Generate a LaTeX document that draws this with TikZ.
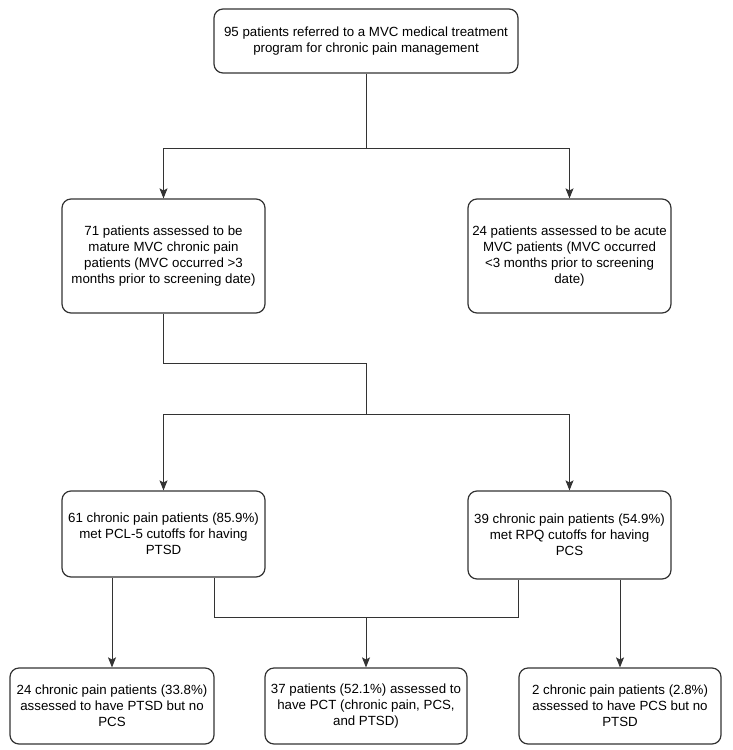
\documentclass[tikz,border=0pt]{standalone}
\usepackage{fontspec}
\setmainfont{Liberation Sans}
\usetikzlibrary{arrows.meta, positioning}

\begin{document}
\begin{tikzpicture}[
        x=1pt, y=-1pt,
        every node/.style={align=center},
        box/.style={draw=black!80, line width=1.2pt, rounded corners=9pt, inner sep=1pt, font=\fontsize{13.3}{16}\selectfont},
        line/.style={-{Stealth[length=10pt,width=8pt,inset=2pt]}, line width=0.9pt, black!80},
        link/.style={line width=0.9pt, black!80},
    ]
    \useasboundingbox (0,0) rectangle (732,750);
    % Nodes
    \node[box, minimum width=304pt, minimum height=64pt] (referred) at (366,41) {95 patients referred to a MVC medical treatment\\program for chronic pain management};
    \node[box, minimum width=203pt, minimum height=114pt] (mature) at (163.5,256) {71 patients assessed to be\\mature MVC chronic pain\\patients (MVC occurred >3\\months prior to screening date)};
    \node[box, minimum width=203pt, minimum height=114pt] (acute) at (569.5,256) {24 patients assessed to be acute\\MVC patients (MVC occurred\\<3 months prior to screening\\date)};
    \node[box, minimum width=203pt, minimum height=86pt] (ptsd) at (163.5,534) {61 chronic pain patients (85.9\%)\\met PCL-5 cutoffs for having\\PTSD};
    \node[box, minimum width=203pt, minimum height=88pt] (pcs) at (569.5,535) {39 chronic pain patients (54.9\%)\\met RPQ cutoffs for having\\PCS};
    \node[box, minimum width=204pt, minimum height=76pt] (ptsdonly) at (112,706) {24 chronic pain patients (33.8\%)\\assessed to have PTSD but no\\PCS};
    \node[box, minimum width=202pt, minimum height=76pt] (pct) at (366,706) {37 patients (52.1\%) assessed to\\have PCT (chronic pain, PCS,\\and PTSD)};
    \node[box, minimum width=202pt, minimum height=76pt] (pcsonly) at (620,706) {2 chronic pain patients (2.8\%)\\assessed to have PCS but no\\PTSD};
    % Junctions
    \coordinate (split1) at (366,148);
    \coordinate (bend) at (366,363);
    \coordinate (split2) at (366,414);
    \coordinate (merge) at (366,617);
    \coordinate (mleft) at (214,617);
    \coordinate (mright) at (518,617);
    % Arrows
    \draw[link] (referred) -- (split1);
    \draw[line] (split1) -| (mature);
    \draw[line] (split1) -| (acute);
    \draw[link] (mature) |- (bend) -- (split2);
    \draw[line] (split2) -| (ptsd);
    \draw[line] (split2) -| (pcs);
    \draw[line] (ptsd.south -| ptsdonly.north) -- (ptsdonly);
    \draw[link] (mleft |- ptsd.south) -- (mleft) -- (mright) -- (mright |- pcs.south);
    \draw[line] (merge) -- (pct);
    \draw[line] (pcs.south -| pcsonly.north) -- (pcsonly);
\end{tikzpicture}
\end{document}
